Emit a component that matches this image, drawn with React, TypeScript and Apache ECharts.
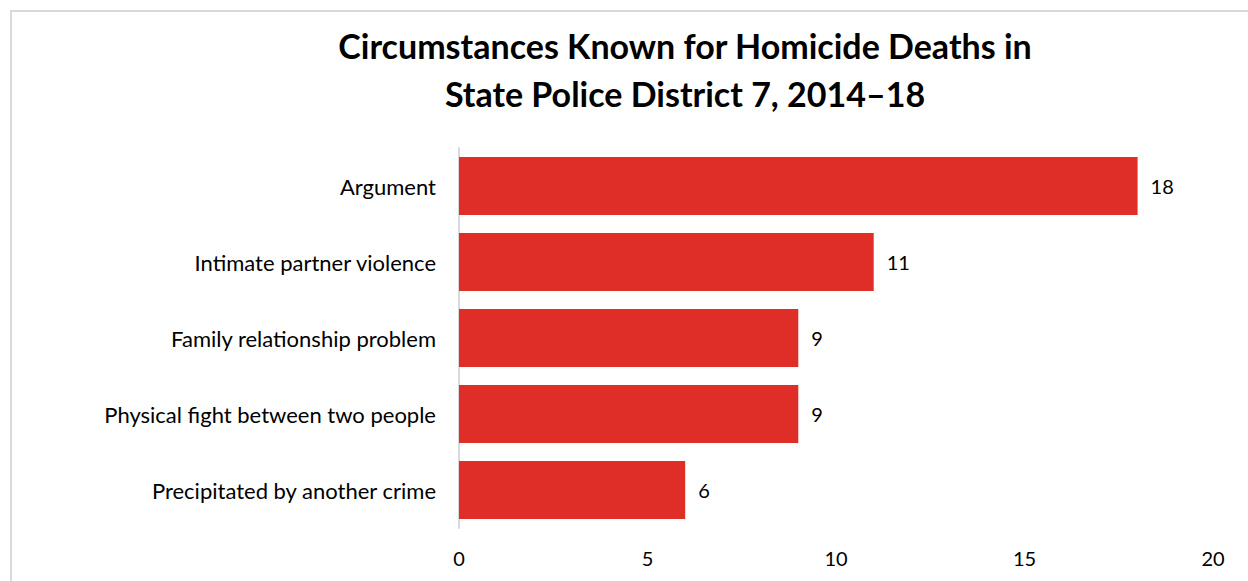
import React, { useEffect, useRef } from "react";
import * as echarts from "echarts";

const categories = [
  "Argument",
  "Intimate partner violence",
  "Family relationship problem",
  "Physical fight between two people",
  "Precipitated by another crime",
];
const values = [18, 11, 9, 9, 6];
const titleLines = ["Circumstances Known for Homicide Deaths in", "State Police District 7, 2014–18"];

const FONT = "Lato, 'Noto Sans', sans-serif";

export default function App() {
  const ref = useRef<HTMLDivElement>(null);
  useEffect(() => {
    if (!ref.current) return;
    const chart = echarts.init(ref.current, undefined, { renderer: "svg" });
    chart.setOption({
      animation: false,
      backgroundColor: "#ffffff",
      textStyle: { fontFamily: FONT },
      title: {
        text: titleLines.join("\n"),
        left: 680,
        textAlign: "center",
        top: 16,
        textStyle: {
          fontFamily: FONT,
          fontSize: 34,
          fontWeight: "bold",
          color: "#000000",
          lineHeight: 48,
        },
      },
      graphic: [
        { type: "line", shape: { x1: 12, y1: 11, x2: 1248, y2: 11 }, style: { stroke: "#d9d9d9", lineWidth: 2 } },
        { type: "line", shape: { x1: 11, y1: 10, x2: 11, y2: 581 }, style: { stroke: "#d9d9d9", lineWidth: 2 } },
      ],
      grid: { left: 459, right: 35, top: 148, bottom: 53, containLabel: false },
      xAxis: {
        type: "value",
        min: 0,
        max: 20,
        interval: 5,
        axisLine: { show: false },
        axisTick: { show: false },
        splitLine: { show: false },
        axisLabel: { fontFamily: FONT, fontSize: 20, color: "#000000", margin: 20 },
      },
      yAxis: {
        type: "category",
        data: categories,
        inverse: true,
        axisLine: { show: true, lineStyle: { color: "#d9d9d9", width: 2 } },
        axisTick: { show: false },
        axisLabel: { fontFamily: FONT, fontSize: 22, color: "#000000", margin: 23 },
      },
      series: [
        {
          type: "bar",
          data: values,
          barCategoryGap: "24%",
          itemStyle: { color: "#DE2E27" },
          label: {
            show: true,
            position: "right",
            distance: 13,
            fontFamily: FONT,
            fontSize: 20,
            color: "#000000",
          },
        },
      ],
    });
    return () => chart.dispose();
  }, []);
  return (
    <div
      ref={ref}
      style={{ position: "fixed", left: 0, top: 0, width: 1248, height: 581 }}
    />
  );
}
